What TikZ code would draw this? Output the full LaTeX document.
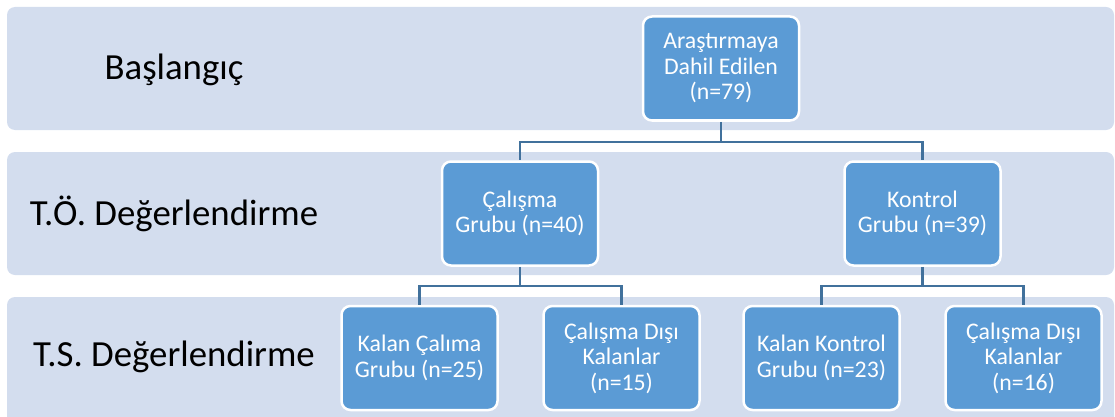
\documentclass[tikz,border=0pt]{standalone}
\usepackage{fontspec}
\setmainfont{Carlito}
\definecolor{bandfill}{HTML}{D3DDEE}
\definecolor{boxfill}{HTML}{5B9BD5}
\definecolor{linecol}{HTML}{41719C}
\tikzset{
  band/.style={fill=bandfill, draw=none, rounded corners=8pt},
  stagelabel/.style={font=\fontsize{36.8}{40}\selectfont, text=black, anchor=center},
  box/.style={fill=boxfill, draw=white, line width=2.5pt, rounded corners=9pt,
    minimum width=156pt, minimum height=104pt, inner sep=0pt,
    text=white, align=center, font=\fontsize{23.8}{25.5}\selectfont},
  conn/.style={draw=linecol, line width=2.2pt}
}
\begin{document}
\begin{tikzpicture}[x=1pt,y=-1pt]
\useasboundingbox (0,0) rectangle (1115,417);
\begin{scope}
\clip (0,0) rectangle (1115,417);
\fill[band] (7,7) rectangle (1114,130);
\fill[band] (7,152) rectangle (1114,275);
\fill[band] (7,297) rectangle (1114,430);
\end{scope}

\node[stagelabel] (l1) at (174,70) {Başlangıç};
\node[stagelabel] (l2) at (174,214) {T.Ö. Değerlendirme};
\node[stagelabel] (l3) at (174,357) {T.S. Değerlendirme};

\node[box] (top) at (721,68.5) {Araştırmaya\\Dahil Edilen\\(n=79)};
\node[box] (c1) at (520,213.5) {Çalışma\\Grubu (n=40)};
\node[box] (c2) at (922.5,213.5) {Kontrol\\Grubu (n=39)};
\node[box] (b1) at (419.5,358) {Kalan Çalıma\\Grubu (n=25)};
\node[box] (b2) at (621.5,358) {Çalışma Dışı\\Kalanlar\\(n=15)};
\node[box] (b3) at (821.5,358) {Kalan Kontrol\\Grubu (n=23)};
\node[box] (b4) at (1023.5,358) {Çalışma Dışı\\Kalanlar\\(n=16)};

\coordinate (j1) at (721,142);
\coordinate (j2) at (520,286);
\coordinate (j3) at (922.5,286);

\draw[conn] (top.south) -- (j1) -| (c1.north);
\draw[conn] (j1) -| (c2.north);
\draw[conn] (c1.south) -- (j2) -| (b1.north);
\draw[conn] (j2) -| (b2.north);
\draw[conn] (c2.south) -- (j3) -| (b3.north);
\draw[conn] (j3) -| (b4.north);
\end{tikzpicture}
\end{document}
